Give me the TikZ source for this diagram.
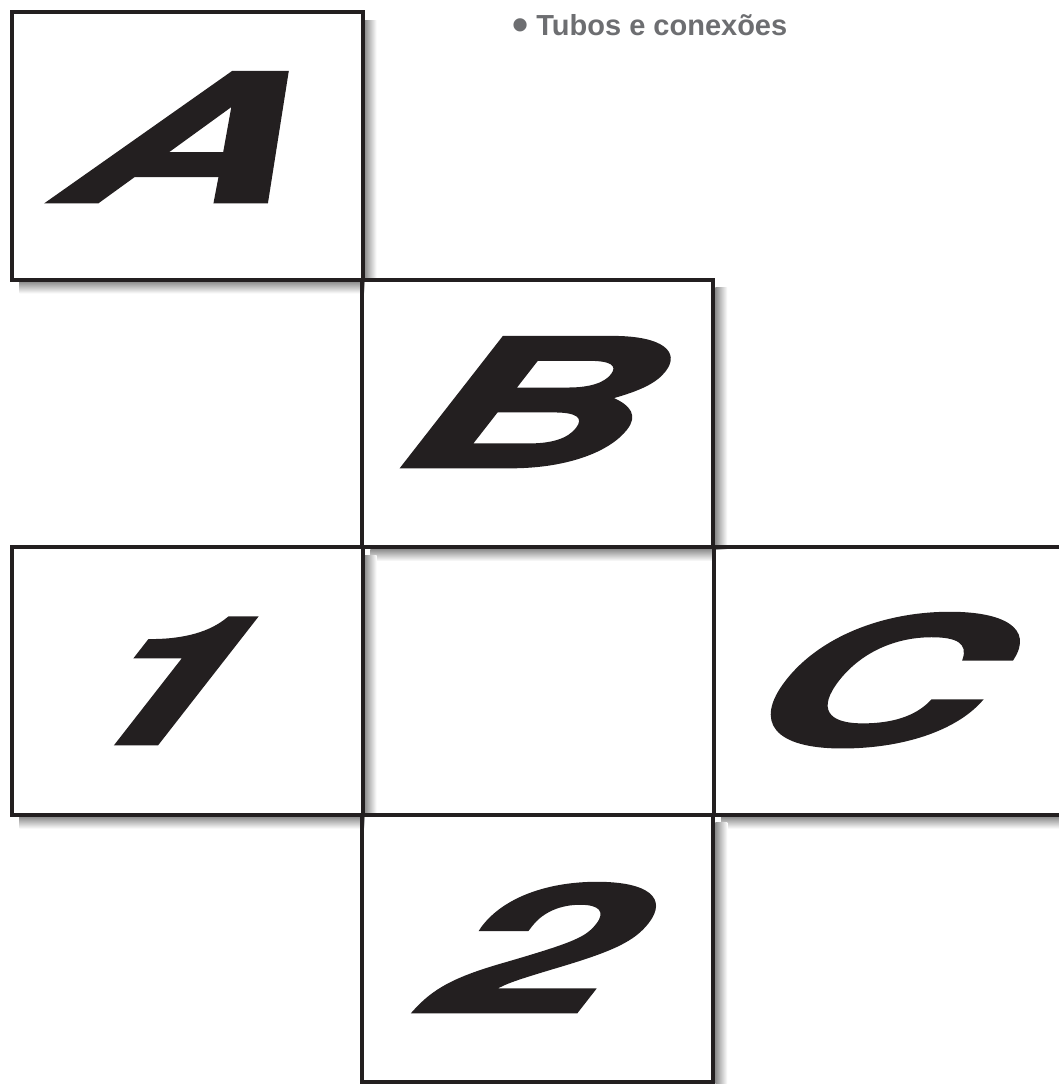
\documentclass[tikz,border=0pt]{standalone}
\usepackage{fontspec}
\setmainfont{Liberation Sans}
\newfontfamily\glyphfont{TeX Gyre Heros}[BoldFeatures={FakeBold=1.5}]
\definecolor{ink}{HTML}{231F20}
\definecolor{capgray}{HTML}{6D6E71}
\newcommand\boxshadow[1]{%
  \shade[left color=black!45, right color=white]
    ([xshift=2pt,yshift=-8pt]#1.north east) rectangle ([xshift=14pt,yshift=-2pt]#1.south east);
  \shade[top color=black!45, bottom color=white]
    ([xshift=8pt,yshift=-2pt]#1.south west) rectangle ([xshift=2pt,yshift=-14pt]#1.south east);
}
\begin{document}
\begin{tikzpicture}[x=1pt,y=-1pt,
  cell/.style={draw=ink, line width=4pt, minimum width=351pt, minimum height=267.5pt,
               inner sep=0pt, outer sep=0pt},
  glyph/.style={text=ink, inner sep=0pt, anchor=base,
                font=\glyphfont\bfseries\fontsize{178}{178}\selectfont, xslant=0.78},
  title/.style={text=capgray, inner sep=0pt, anchor=base west,
                font=\bfseries\fontsize{29}{31}\selectfont}
]
\useasboundingbox (0,0) rectangle (1058,1084);
\path[fill=white] (0,0) rectangle (1058,1084);
\coordinate (cA) at (187,145.75);
\coordinate (cB) at (537.75,413.25);
\coordinate (c1) at (187,681);
\coordinate (cC) at (889,681);
\coordinate (c2) at (537.75,948.5);
% invisible nodes to get anchors for shadows
\node[cell, draw=none] (sA) at (cA) {};
\node[cell, draw=none] (sB) at (cB) {};
\node[cell, draw=none] (s1) at (c1) {};
\node[cell, draw=none] (sC) at (cC) {};
\node[cell, draw=none] (s2) at (c2) {};
\boxshadow{sA}
\boxshadow{sB}
\boxshadow{s1}
\boxshadow{sC}
\boxshadow{s2}
% boxes
\node[cell] (boxA) at (cA) {};
\node[cell] (boxB) at (cB) {};
\node[cell] (box1) at (c1) {};
\node[cell] (boxC) at (cC) {};
\node[cell] (box2) at (c2) {};
% glyphs
\node[glyph, xscale=1.8] (lA) at (156,202) {A};
\node[glyph, xscale=1.85] (lB) at (495,467) {B};
\node[glyph, xscale=1.6] (l1) at (128.5,744) {1};
\node[glyph, xscale=1.82] (lC) at (840.5,745) {C};
\node[glyph, xscale=1.88] (l2) at (497.5,1012) {2};
% title
\node[title] (tt) at (512,35) {\raisebox{-5pt}{\fontsize{46}{46}\selectfont •} Tubos e conexões};
\end{tikzpicture}
\end{document}
